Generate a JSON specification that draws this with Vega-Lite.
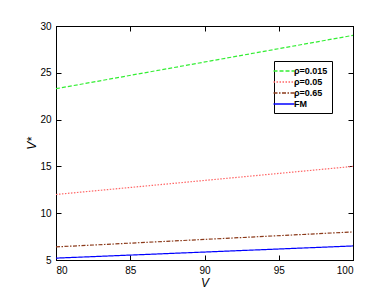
{
  "$schema": "https://vega.github.io/schema/vega-lite/v6.json",
  "width": 297,
  "height": 234,
  "padding": {"left": 25, "top": 21, "right": 31, "bottom": 5},
  "autosize": {"type": "pad"},
  "config": {
    "font": "Liberation Sans",
    "view": {"stroke": "#000", "strokeWidth": 1},
    "axis": {"domainColor": "#000", "tickColor": "#000", "labelColor": "#000", "labelFontSize": 10, "tickSize": -5, "labelPadding": 10, "grid": false, "titleColor": "#000", "titleFontSize": 12, "titleFontWeight": "normal"},
    "legend": {"labelLimit": 300}
  },
  "data": {"values": [
    {"V": 80, "Vs": 23.3, "series": "ρ=0.015"},
    {"V": 100, "Vs": 29.0, "series": "ρ=0.015"},
    {"V": 80, "Vs": 12.0, "series": "ρ=0.05"},
    {"V": 100, "Vs": 15.0, "series": "ρ=0.05"},
    {"V": 80, "Vs": 6.4, "series": "ρ=0.65"},
    {"V": 100, "Vs": 8.0, "series": "ρ=0.65"},
    {"V": 80, "Vs": 5.2, "series": "FM"},
    {"V": 100, "Vs": 6.5, "series": "FM"}
  ]},
  "layer": [
    {
      "mark": {"type": "line", "strokeWidth": 1.2},
      "encoding": {
        "x": {"field": "V", "type": "quantitative", "scale": {"domain": [80, 100], "nice": false},
              "axis": {"values": [80, 85, 90, 95, 100], "title": "V", "titleFontStyle": "italic", "titlePadding": 2}},
        "y": {"field": "Vs", "type": "quantitative", "scale": {"domain": [5, 30], "nice": false},
              "axis": {"values": [5, 10, 15, 20, 25, 30], "title": "V*", "titleFontStyle": "italic", "titlePadding": 1}},
        "color": {"field": "series", "type": "nominal",
                  "scale": {"domain": ["ρ=0.015", "ρ=0.05", "ρ=0.65", "FM"], "range": ["#33ee33", "#ff6666", "#8b3a1a", "#0000ff"]},
                  "legend": {"title": null, "orient": "none", "legendX": 218, "legendY": 35, "strokeColor": "#000", "fillColor": "#fff", "padding": 4, "symbolType": "M-2,0L2,0", "symbolSize": 110, "symbolStrokeWidth": 1.5, "labelFontSize": 9, "labelFontWeight": "bold", "labelColor": "#000", "rowPadding": 0, "labelOffset": 4, "labelExpr": "datum.value + '\u00a0\u00a0\u00a0\u00a0\u00a0'"}},
        "strokeDash": {"field": "series", "type": "nominal",
                  "scale": {"domain": ["ρ=0.015", "ρ=0.05", "ρ=0.65", "FM"], "range": [[4, 2], [1.5, 1.5], [4, 1.5, 1.5, 1.5], [1, 0]]},
                  "legend": {"title": null, "orient": "none", "legendX": 218, "legendY": 35, "strokeColor": "#000", "fillColor": "#fff", "padding": 4, "symbolType": "M-2,0L2,0", "symbolSize": 110, "symbolStrokeWidth": 1.5, "labelFontSize": 9, "labelFontWeight": "bold", "labelColor": "#000", "rowPadding": 0, "labelOffset": 4, "labelExpr": "datum.value + '\u00a0\u00a0\u00a0\u00a0\u00a0'"}}
      }
    },
    {
      "mark": {"type": "line", "opacity": 0},
      "encoding": {
        "x": {"field": "V", "type": "quantitative", "axis": {"orient": "top", "labels": false, "title": null, "values": [80, 85, 90, 95, 100]}},
        "y": {"field": "Vs", "type": "quantitative", "axis": {"orient": "right", "labels": false, "title": null, "values": [5, 10, 15, 20, 25, 30]}}
      }
    }
  ],
  "resolve": {"axis": {"x": "independent", "y": "independent"}}
}
